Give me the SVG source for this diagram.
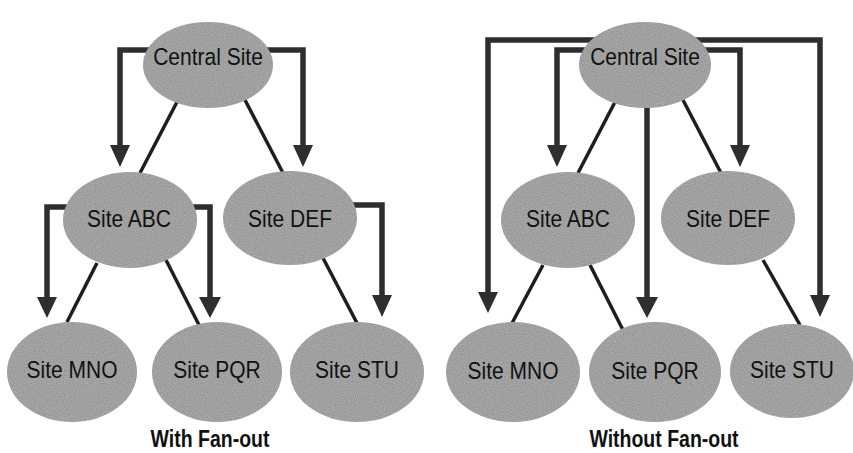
<svg xmlns="http://www.w3.org/2000/svg" width="853" height="453" viewBox="0 0 853 453">
  <style>
    .bg { fill: #ffffff; }
    .site { fill: #8c8c8c; }
    .link { stroke: #1e1e1e; stroke-width: 3.5; fill: none; }
    .flow { stroke: #2e2e2e; stroke-width: 5.5; fill: none; stroke-linejoin: miter; stroke-linecap: butt; }
    .head { fill: #2e2e2e; }
    .label { font-family: "Liberation Sans", Arial, sans-serif; font-size: 21px; fill: #111; text-anchor: middle; }
    .title { font-family: "Liberation Sans", Arial, sans-serif; font-size: 19.5px; font-weight: bold; fill: #111; text-anchor: middle; }
  </style>
  <defs>
    <!-- fine grain for the grey site bubbles -->
    <filter id="grain" x="0" y="0" width="100%" height="100%">
      <feTurbulence type="fractalNoise" baseFrequency="0.9" numOctaves="1" seed="3" result="n"/>
      <feColorMatrix in="n" type="matrix" values="0 0 0 0 1  0 0 0 0 1  0 0 0 0 1  0 0 0 0.35 -0.05" result="w"/>
      <feComposite in="w" in2="SourceGraphic" operator="in" result="wc"/>
      <feMerge><feMergeNode in="SourceGraphic"/><feMergeNode in="wc"/></feMerge>
    </filter>
  </defs>
  <rect class="bg" x="0" y="0" width="853" height="453"/>

  <g id="connectors">
    <!-- With Fan-out: hierarchy links -->
    <line class="link" x1="177" y1="102" x2="140" y2="173"/>
    <line class="link" x1="245" y1="100" x2="283" y2="173"/>
    <line class="link" x1="97" y1="263" x2="67" y2="322"/>
    <line class="link" x1="165" y1="258" x2="200" y2="327"/>
    <line class="link" x1="323" y1="258" x2="358" y2="325"/>
    <!-- With Fan-out: data flow arrows -->
    <polyline class="flow" points="160,50 120,50 120,146"/>
    <polygon class="head" points="110,145 130,145 120,167"/>
    <polyline class="flow" points="256,50 303,50 303,146"/>
    <polygon class="head" points="293,145 313,145 303,167"/>
    <polyline class="flow" points="80,207 47,207 47,298"/>
    <polygon class="head" points="37,297 57,297 47,318"/>
    <polyline class="flow" points="180,207 210,207 210,298"/>
    <polygon class="head" points="199,297 221,297 210,318"/>
    <polyline class="flow" points="340,205 382,205 382,296"/>
    <polygon class="head" points="372,295 392,295 382,317"/>

    <!-- Without Fan-out: hierarchy links -->
    <line class="link" x1="615" y1="102" x2="578" y2="173"/>
    <line class="link" x1="683" y1="100" x2="721" y2="173"/>
    <line class="link" x1="543" y1="265" x2="511" y2="325"/>
    <line class="link" x1="590" y1="265" x2="623" y2="330"/>
    <line class="link" x1="763" y1="260" x2="800" y2="325"/>
    <!-- Without Fan-out: central site sends to every site -->
    <polyline class="flow" points="600,40 488,40 488,293"/>
    <polygon class="head" points="478,292 498,292 488,313"/>
    <polyline class="flow" points="690,40 820,40 820,296"/>
    <polygon class="head" points="810,295 830,295 820,317"/>
    <polyline class="flow" points="595,50 557,50 557,146"/>
    <polygon class="head" points="547,145 567,145 557,167"/>
    <polyline class="flow" points="695,50 740,50 740,146"/>
    <polygon class="head" points="730,145 750,145 740,167"/>
    <polyline class="flow" points="647,90 647,298"/>
    <polygon class="head" points="636,297 658,297 647,318"/>
  </g>

  <!-- With Fan-out -->
  <g id="left-central">
    <ellipse class="site" filter="url(#grain)" cx="208" cy="65" rx="65" ry="43"/>
    <text class="label" transform="translate(208,65) scale(1,1.18)">Central Site</text>
  </g>
  <g id="left-abc">
    <ellipse class="site" filter="url(#grain)" cx="130" cy="220" rx="67" ry="48"/>
    <text class="label" transform="translate(129,227) scale(1,1.18)">Site ABC</text>
  </g>
  <g id="left-def">
    <ellipse class="site" filter="url(#grain)" cx="290" cy="218" rx="67" ry="47"/>
    <text class="label" transform="translate(290,227) scale(1,1.18)">Site DEF</text>
  </g>
  <g id="left-mno">
    <ellipse class="site" filter="url(#grain)" cx="72" cy="372" rx="65" ry="50"/>
    <text class="label" transform="translate(72,378) scale(1,1.18)">Site MNO</text>
  </g>
  <g id="left-pqr">
    <ellipse class="site" filter="url(#grain)" cx="217" cy="372" rx="65" ry="50"/>
    <text class="label" transform="translate(217,378) scale(1,1.18)">Site PQR</text>
  </g>
  <g id="left-stu">
    <ellipse class="site" filter="url(#grain)" cx="357" cy="372" rx="67" ry="50"/>
    <text class="label" transform="translate(357,378) scale(1,1.18)">Site STU</text>
  </g>

  <!-- Without Fan-out -->
  <g id="right-central">
    <ellipse class="site" filter="url(#grain)" cx="645" cy="65" rx="66" ry="43"/>
    <text class="label" transform="translate(645,65) scale(1,1.18)">Central Site</text>
  </g>
  <g id="right-abc">
    <ellipse class="site" filter="url(#grain)" cx="568" cy="220" rx="67" ry="48"/>
    <text class="label" transform="translate(568,227) scale(1,1.18)">Site ABC</text>
  </g>
  <g id="right-def">
    <ellipse class="site" filter="url(#grain)" cx="728" cy="218" rx="67" ry="47"/>
    <text class="label" transform="translate(728,227) scale(1,1.18)">Site DEF</text>
  </g>
  <g id="right-mno">
    <ellipse class="site" filter="url(#grain)" cx="513" cy="372" rx="67" ry="50"/>
    <text class="label" transform="translate(513,379) scale(1,1.18)">Site MNO</text>
  </g>
  <g id="right-pqr">
    <ellipse class="site" filter="url(#grain)" cx="655" cy="372" rx="66" ry="50"/>
    <text class="label" transform="translate(655,379) scale(1,1.18)">Site PQR</text>
  </g>
  <g id="right-stu">
    <ellipse class="site" filter="url(#grain)" cx="792" cy="371" rx="62" ry="47"/>
    <text class="label" transform="translate(792,378) scale(1,1.18)">Site STU</text>
  </g>

  <g id="captions">
    <text class="title" transform="translate(210,447) scale(1,1.18)">With Fan-out</text>
    <text class="title" transform="translate(664,447) scale(1,1.18)">Without Fan-out</text>
  </g>
</svg>
